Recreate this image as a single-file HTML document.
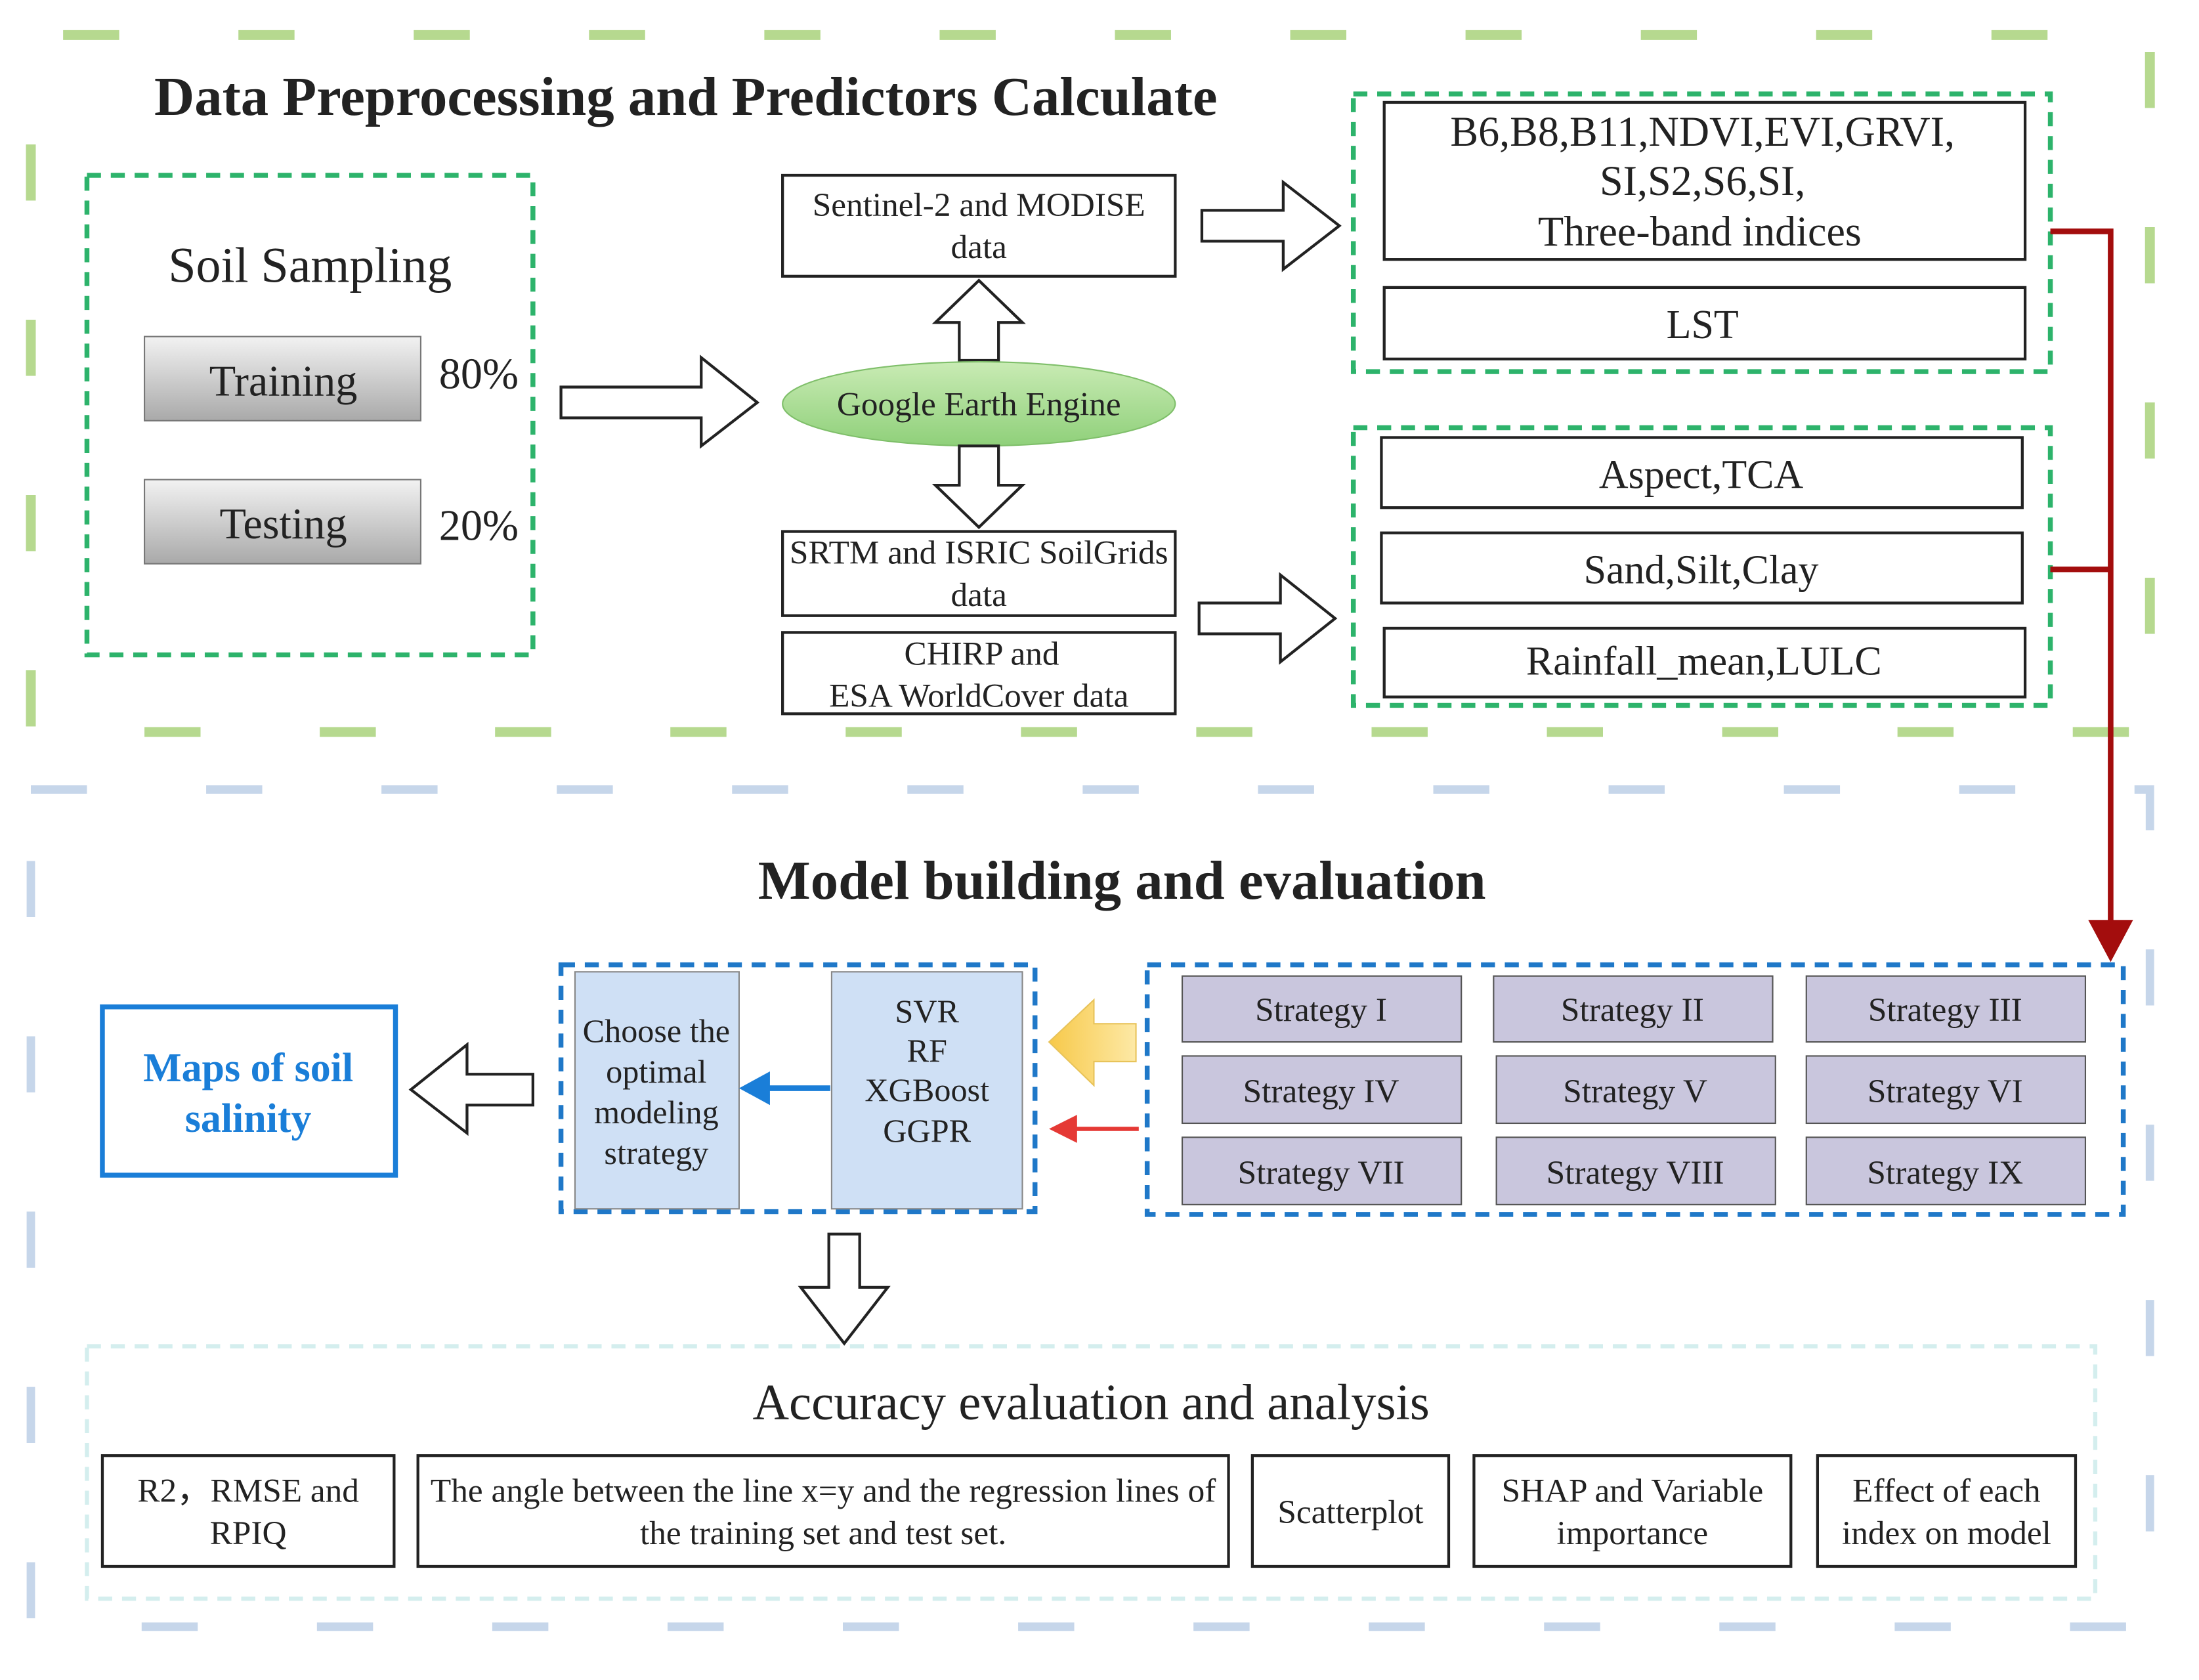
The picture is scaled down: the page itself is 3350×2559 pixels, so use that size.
<!DOCTYPE html>
<html><head><meta charset="utf-8"><style>
html,body{margin:0;padding:0;background:#fff;}
svg{display:block;}
text{font-family:"Liberation Serif",serif;fill:#222;}
</style></head><body>
<svg width="3350" height="2559" viewBox="0 0 1568 1198" preserveAspectRatio="none" xmlns="http://www.w3.org/2000/svg">
<defs>
<linearGradient id="gray" x1="0" y1="0" x2="0" y2="1"><stop offset="0" stop-color="#f2f2f2"/><stop offset="1" stop-color="#a9a9a9"/></linearGradient>
<linearGradient id="grn" x1="0" y1="0" x2="0" y2="1"><stop offset="0" stop-color="#c9ebb4"/><stop offset="1" stop-color="#8fd07a"/></linearGradient>
<linearGradient id="yel" x1="0" y1="0" x2="1" y2="0"><stop offset="0" stop-color="#f7c94a"/><stop offset="1" stop-color="#fde9a6"/></linearGradient>
</defs>
<rect x="22" y="25" width="1511" height="497" fill="none" stroke="#b6d98f" stroke-width="7" stroke-dasharray="40 85" stroke-dashoffset="102"/>
<rect x="22" y="563" width="1511" height="597" fill="none" stroke="#c6d6ea" stroke-width="6" stroke-dasharray="40 85"/>

<text x="110" y="82" font-size="39" font-weight="bold" textLength="758" lengthAdjust="spacingAndGlyphs">Data Preprocessing and Predictors Calculate</text>

<rect x="62" y="125" width="318" height="342" fill="none" stroke="#2db36b" stroke-width="3.5" stroke-dasharray="10 7"/>
<text x="120" y="201" font-size="35.5">Soil Sampling</text>
<rect x="103" y="240" width="197" height="60" fill="url(#gray)" stroke="#777"/>
<text x="202" y="282" font-size="31" text-anchor="middle">Training</text>
<rect x="103" y="342" width="197" height="60" fill="url(#gray)" stroke="#777"/>
<text x="202" y="384" font-size="31" text-anchor="middle">Testing</text>
<text x="313" y="277" font-size="31">80%</text>
<text x="313" y="385" font-size="31">20%</text>

<polygon points="400,276 500,276 500,255 540,287 500,318 500,298 400,298" fill="#fff" stroke="#222" stroke-width="2"/>

<rect x="558" y="125" width="280" height="72" fill="#fff" stroke="#222" stroke-width="2"/>
<text x="698" y="154" font-size="24" text-anchor="middle">Sentinel-2  and MODISE</text>
<text x="698" y="184" font-size="24" text-anchor="middle">data</text>
<polygon points="698,200 729,230 712,230 712,257 684,257 684,230 667,230" fill="#fff" stroke="#222" stroke-width="2"/>
<ellipse cx="698" cy="288" rx="140" ry="30" fill="url(#grn)" stroke="#7fbf6a"/>
<text x="698" y="296" font-size="24" text-anchor="middle">Google Earth Engine</text>
<polygon points="684,318 712,318 712,346 729,346 698,376 667,346 684,346" fill="#fff" stroke="#222" stroke-width="2"/>
<rect x="558" y="379" width="280" height="60" fill="#fff" stroke="#222" stroke-width="2"/>
<text x="698" y="402" font-size="24" text-anchor="middle">SRTM and ISRIC SoilGrids</text>
<text x="698" y="432" font-size="24" text-anchor="middle">data</text>
<rect x="558" y="451" width="280" height="58" fill="#fff" stroke="#222" stroke-width="2"/>
<text x="700" y="474" font-size="24" text-anchor="middle">CHIRP and</text>
<text x="698" y="504" font-size="24" text-anchor="middle">ESA  WorldCover data</text>

<polygon points="857,150 915,150 915,130 955,161 915,192 915,172 857,172" fill="#fff" stroke="#222" stroke-width="2"/>
<polygon points="855,430 913,430 913,410 952,441 913,472 913,452 855,452" fill="#fff" stroke="#222" stroke-width="2"/>

<rect x="965" y="67" width="497" height="198" fill="none" stroke="#2db36b" stroke-width="3.5" stroke-dasharray="10 7"/>
<rect x="987" y="73" width="457" height="112" fill="#fff" stroke="#222" stroke-width="2"/>
<text x="1214" y="104" font-size="30" text-anchor="middle">B6,B8,B11,NDVI,EVI,GRVI,</text>
<text x="1214" y="139" font-size="30" text-anchor="middle">SI,S2,S6,SI,</text>
<text x="1212" y="175" font-size="30" text-anchor="middle">Three-band indices</text>
<rect x="987" y="205" width="457" height="51" fill="#fff" stroke="#222" stroke-width="2"/>
<text x="1214" y="241" font-size="29" text-anchor="middle">LST</text>

<rect x="965" y="305" width="497" height="198" fill="none" stroke="#2db36b" stroke-width="3.5" stroke-dasharray="10 7"/>
<rect x="985" y="312" width="457" height="50" fill="#fff" stroke="#222" stroke-width="2"/>
<text x="1213" y="348" font-size="29" text-anchor="middle">Aspect,TCA</text>
<rect x="985" y="380" width="457" height="50" fill="#fff" stroke="#222" stroke-width="2"/>
<text x="1213" y="416" font-size="29" text-anchor="middle">Sand,Silt,Clay</text>
<rect x="987" y="448" width="457" height="49" fill="#fff" stroke="#222" stroke-width="2"/>
<text x="1215" y="481" font-size="29" text-anchor="middle">Rainfall_mean,LULC</text>

<polyline points="1462,165 1505,165 1505,660" fill="none" stroke="#a30d0d" stroke-width="4"/>
<line x1="1462" y1="406" x2="1505" y2="406" stroke="#a30d0d" stroke-width="4"/>
<polygon points="1489,656 1521,656 1505,686" fill="#a30d0d"/>

<text x="800" y="641" font-size="39" font-weight="bold" text-anchor="middle" textLength="519" lengthAdjust="spacingAndGlyphs">Model building and evaluation</text>

<rect x="73" y="718" width="209" height="120" fill="#fff" stroke="#1a7ed8" stroke-width="3.5"/>
<text x="177" y="771" font-size="29" font-weight="bold" text-anchor="middle" style="fill:#1a7ed8">Maps of soil</text>
<text x="177" y="807" font-size="29" font-weight="bold" text-anchor="middle" style="fill:#1a7ed8">salinity</text>
<polygon points="293,777 333,745 333,766 380,766 380,788 333,788 333,808" fill="#fff" stroke="#222" stroke-width="2"/>

<rect x="400" y="688" width="338" height="176" fill="none" stroke="#1f78c8" stroke-width="3.5" stroke-dasharray="10 7"/>
<rect x="410" y="693" width="117" height="169" fill="#cfe0f5" stroke="#888"/>
<text x="468" y="743" font-size="23.5" text-anchor="middle">Choose the</text>
<text x="468" y="772" font-size="23.5" text-anchor="middle">optimal</text>
<text x="468" y="801" font-size="23.5" text-anchor="middle">modeling</text>
<text x="468" y="830" font-size="23.5" text-anchor="middle">strategy</text>
<rect x="593" y="693" width="136" height="169" fill="#cfe0f5" stroke="#888"/>
<text x="661" y="729" font-size="23.5" text-anchor="middle">SVR</text>
<text x="661" y="757" font-size="23.5" text-anchor="middle">RF</text>
<text x="661" y="785" font-size="23.5" text-anchor="middle">XGBoost</text>
<text x="661" y="814" font-size="23.5" text-anchor="middle">GGPR</text>
<line x1="592" y1="776" x2="545" y2="776" stroke="#1a7ed8" stroke-width="4"/>
<polygon points="527,776 549,764 549,788" fill="#1a7ed8"/>
<polygon points="748,743 780,713 780,730 810,730 810,757 780,757 780,774" fill="url(#yel)" stroke="#e8c35a"/>
<line x1="812" y1="805" x2="765" y2="805" stroke="#e53935" stroke-width="3"/>
<polygon points="748,805 768,795 768,815" fill="#e53935"/>

<rect x="818" y="688" width="696" height="178" fill="none" stroke="#1f78c8" stroke-width="3.5" stroke-dasharray="10 7"/>
<rect x="843" y="696" width="199" height="47" fill="#c9c6dd" stroke="#555"/><text x="942" y="728" text-anchor="middle" font-size="24">Strategy I</text>
<rect x="1065" y="696" width="199" height="47" fill="#c9c6dd" stroke="#555"/><text x="1164" y="728" text-anchor="middle" font-size="24">Strategy II</text>
<rect x="1288" y="696" width="199" height="47" fill="#c9c6dd" stroke="#555"/><text x="1387" y="728" text-anchor="middle" font-size="24">Strategy III</text>
<rect x="843" y="753" width="199" height="48" fill="#c9c6dd" stroke="#555"/><text x="942" y="786" text-anchor="middle" font-size="24">Strategy IV</text>
<rect x="1067" y="753" width="199" height="48" fill="#c9c6dd" stroke="#555"/><text x="1166" y="786" text-anchor="middle" font-size="24">Strategy V</text>
<rect x="1288" y="753" width="199" height="48" fill="#c9c6dd" stroke="#555"/><text x="1387" y="786" text-anchor="middle" font-size="24">Strategy VI</text>
<rect x="843" y="811" width="199" height="48" fill="#c9c6dd" stroke="#555"/><text x="942" y="844" text-anchor="middle" font-size="24">Strategy VII</text>
<rect x="1067" y="811" width="199" height="48" fill="#c9c6dd" stroke="#555"/><text x="1166" y="844" text-anchor="middle" font-size="24">Strategy VIII</text>
<rect x="1288" y="811" width="199" height="48" fill="#c9c6dd" stroke="#555"/><text x="1387" y="844" text-anchor="middle" font-size="24">Strategy IX</text>

<polygon points="591,880 613,880 613,918 633,918 602,958 571,918 591,918" fill="#fff" stroke="#222" stroke-width="2"/>

<rect x="62" y="960" width="1432" height="180" fill="none" stroke="#d4eeee" stroke-width="3" stroke-dasharray="10 7"/>
<text x="778" y="1012" font-size="36" text-anchor="middle">Accuracy evaluation and analysis</text>

<rect x="73" y="1038" width="208" height="79" fill="#fff" stroke="#222" stroke-width="2"/>
<text x="177" y="1071" font-size="24" text-anchor="middle">R2，RMSE and</text>
<text x="177" y="1101" font-size="24" text-anchor="middle">RPIQ</text>
<rect x="298" y="1038" width="578" height="79" fill="#fff" stroke="#222" stroke-width="2"/>
<text x="587" y="1071" font-size="24" text-anchor="middle">The angle between the line x=y and the regression lines of</text>
<text x="587" y="1101" font-size="24" text-anchor="middle">the training set and test set.</text>
<rect x="893" y="1038" width="140" height="79" fill="#fff" stroke="#222" stroke-width="2"/>
<text x="963" y="1086" font-size="24" text-anchor="middle">Scatterplot</text>
<rect x="1051" y="1038" width="226" height="79" fill="#fff" stroke="#222" stroke-width="2"/>
<text x="1164" y="1071" font-size="24" text-anchor="middle">SHAP and Variable</text>
<text x="1164" y="1101" font-size="24" text-anchor="middle">importance</text>
<rect x="1296" y="1038" width="184" height="79" fill="#fff" stroke="#222" stroke-width="2"/>
<text x="1388" y="1071" font-size="24" text-anchor="middle">Effect of each</text>
<text x="1388" y="1101" font-size="24" text-anchor="middle">index on model</text>
</svg>
</body></html>
